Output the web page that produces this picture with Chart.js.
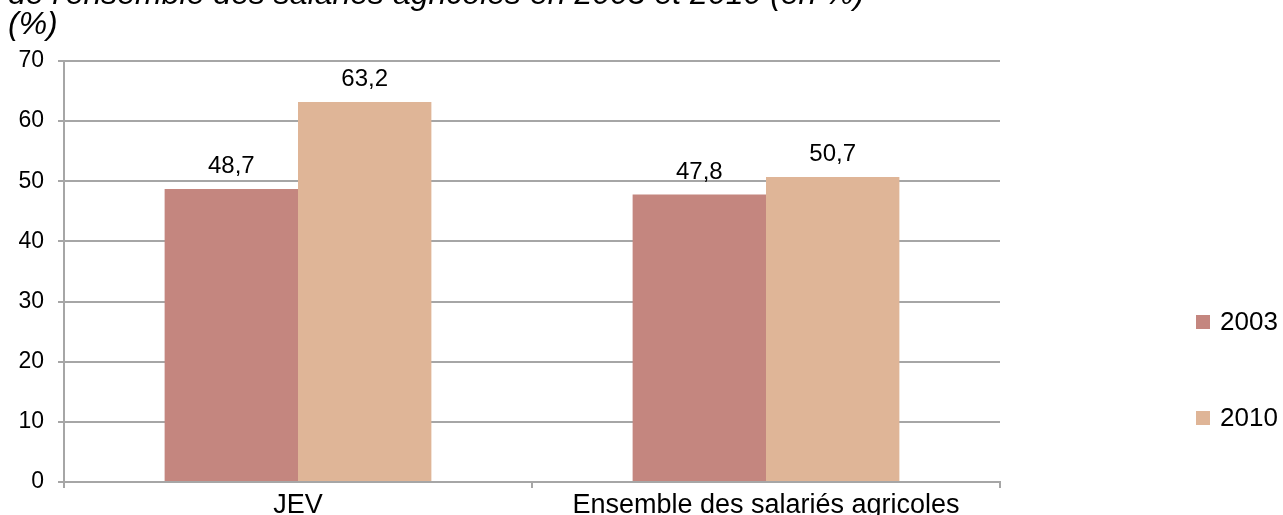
<!DOCTYPE html>
<html lang="fr">
<head>
<meta charset="utf-8">
<title>JEV vs ensemble des salariés agricoles</title>
<script src="https://cdn.jsdelivr.net/npm/chart.js@4/dist/chart.umd.min.js"></script>
<style>
  html, body { margin: 0; padding: 0; background: #fff; overflow: hidden; }
  #wrap { position: relative; width: 1283px; height: 515px; }
  #title {
    position: absolute; left: 8px; top: -22px;
    font: italic 32px/30px "Liberation Sans", Arial, sans-serif;
    color: #000; white-space: nowrap;
  }
  #legend { position: absolute; left: 1196px; top: 0; font: 26px "Liberation Sans", Arial, sans-serif; color: #000; }
  .lg-item { position: absolute; left: 0; display: flex; align-items: center; white-space: nowrap; }
  .lg-box { width: 14px; height: 14px; margin-right: 10px; }
</style>
</head>
<body>
<div id="wrap">
  <canvas id="chart" width="1283" height="515"></canvas>
  <div id="title">de l'ensemble des salariés agricoles en 2003 et 2010 (en %)<br>(%)</div>
  <div id="legend"></div>
</div>
<script>
// values
const categories = ["JEV", "Ensemble des salariés agricoles"];
const years = ["2003", "2010"];
const values2003 = [48.7, 47.8];
const values2010 = [63.2, 50.7];
const yTicks = [0, 10, 20, 30, 40, 50, 60, 70];

const colors = ["#C4867F", "#DFB597"];
const GRID = "#A6A6A6";

Chart.defaults.font.family = '"Liberation Sans", Arial, sans-serif';
Chart.defaults.color = "#000";

// value labels above each bar, with a French decimal comma
const barValues = {
  id: "barValues",
  afterDatasetsDraw(chart) {
    const ctx = chart.ctx;
    ctx.save();
    ctx.font = '24px "Liberation Sans", Arial, sans-serif';
    ctx.fillStyle = "#000";
    ctx.textAlign = "center";
    ctx.textBaseline = "alphabetic";
    chart.data.datasets.forEach((ds, i) => {
      chart.getDatasetMeta(i).data.forEach((bar, j) => {
        const txt = String(ds.data[j]).replace(".", ",");
        ctx.fillText(txt, bar.x, bar.y - 16);
      });
    });
    ctx.restore();
  }
};

new Chart(document.getElementById("chart"), {
  type: "bar",
  data: {
    labels: categories,
    datasets: [
      {
        label: years[0],
        data: values2003,
        backgroundColor: colors[0],
        categoryPercentage: 0.57,
        barPercentage: 1
      },
      {
        label: years[1],
        data: values2010,
        backgroundColor: colors[1],
        categoryPercentage: 0.57,
        barPercentage: 1
      }
    ]
  },
  options: {
    responsive: false,
    animation: false,
    layout: { padding: { top: 61, right: 283, left: 0, bottom: 0 } },
    plugins: {
      legend: { display: false },
      tooltip: { enabled: false }
    },
    scales: {
      x: {
        afterFit: s => { s.height = 33; },
        grid: {
          display: true,
          drawOnChartArea: false,
          drawTicks: true,
          tickLength: 6,
          color: GRID,
          lineWidth: 2
        },
        border: { display: true, color: GRID, width: 2 },
        ticks: { font: { size: 27 }, color: "#000", padding: 1, maxRotation: 0 }
      },
      y: {
        min: 0,
        max: 70,
        afterFit: s => { s.width = 64; },
        afterBuildTicks: s => { s.ticks = yTicks.map(v => ({ value: v })); },
        grid: {
          color: GRID,
          lineWidth: 2,
          drawTicks: true,
          tickLength: 6
        },
        border: { display: true, color: GRID, width: 2 },
        ticks: { font: { size: 23 }, color: "#000", padding: 14 }
      }
    }
  },
  plugins: [barValues]
});

// legend at the right, built from the same series names and colours
const legendTops = [306, 402];
document.getElementById("legend").innerHTML = years.map((y, i) => `
  <div class="lg-item" style="top:${legendTops[i]}px">
    <span class="lg-box" style="background:${colors[i]}"></span>${y}
  </div>`).join("");
</script>
</body>
</html>
